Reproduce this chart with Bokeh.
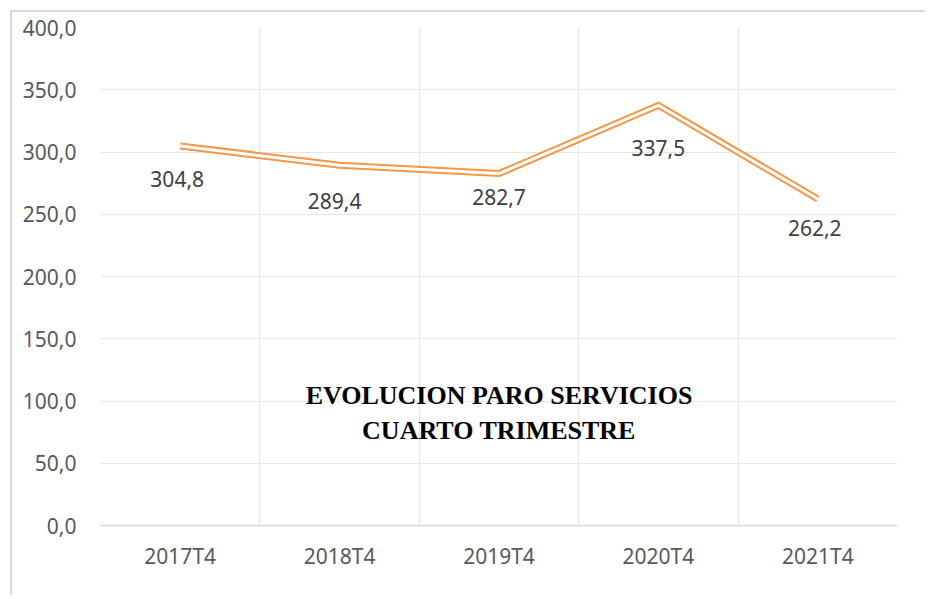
from bokeh.plotting import figure
from bokeh.models import (ColumnDataSource, Range1d, FixedTicker, Grid, LabelSet, Label,
                          CustomJSTickFormatter)
from bokeh.core.properties import value
from bokeh.embed import file_html
from bokeh.resources import INLINE

# ---- data ----
categories = ["2017T4", "2018T4", "2019T4", "2020T4", "2021T4"]
values = [304.8, 289.4, 282.7, 337.5, 262.2]
value_labels = ["304,8", "289,4", "282,7", "337,5", "262,2"]
y_ticks = [0, 50, 100, 150, 200, 250, 300, 350, 400]
title_lines = ["EVOLUCION PARO SERVICIOS", "CUARTO TRIMESTRE"]

# label placement (style)
label_dy = [-33, -36, -23, -43, -29]
label_dx = [-3, -5, 0, 0, -3]

xs = [i + 0.5 for i in range(len(categories))]

p = figure(width=915, height=585, output_backend="svg", toolbar_location=None,
           x_range=Range1d(0, len(categories)), y_range=Range1d(0, 400),
           min_border_left=88, min_border_right=30, min_border_top=15, min_border_bottom=72)
p.styles = {"border-left": "2px solid #d9d9d9", "border-top": "2px solid #d9d9d9",
            "margin-left": "10px", "margin-top": "10px"}
p.outline_line_color = None
p.background_fill_color = "white"
p.border_fill_color = "white"

# axes
p.xaxis.ticker = FixedTicker(ticks=xs)
p.xaxis.major_label_overrides = {x: c for x, c in zip(xs, categories)}
p.xaxis.axis_line_color = "#d9d9d9"
p.xaxis.axis_line_width = 1.5
p.xaxis.major_tick_line_color = None
p.xaxis.minor_tick_line_color = None
p.xaxis.major_label_text_font = "Noto Sans"
p.xaxis.major_label_text_font_size = "21px"
p.xaxis.major_label_text_color = "#595959"
p.xaxis.major_label_standoff = 10

p.yaxis.ticker = FixedTicker(ticks=y_ticks)
p.yaxis.formatter = CustomJSTickFormatter(code="return tick.toFixed(1).replace('.', ',');")
p.yaxis.axis_line_color = None
p.yaxis.major_tick_line_color = None
p.yaxis.minor_tick_line_color = None
p.yaxis.major_label_text_font = "Noto Sans"
p.yaxis.major_label_text_font_size = "21px"
p.yaxis.major_label_text_color = "#595959"
p.yaxis.major_label_standoff = 18

# grids
p.xgrid.visible = False
p.ygrid.grid_line_color = "#e6e6e6"
p.ygrid.grid_line_width = 1.2
vgrid = Grid(dimension=0, ticker=FixedTicker(ticks=list(range(len(categories) + 1))),
             grid_line_color="#e6e6e6", grid_line_width=1.2)
p.add_layout(vgrid)

src = ColumnDataSource(dict(x=xs, y=values, lab=value_labels, dx=label_dx, dy=label_dy))

# double line
p.line("x", "y", source=src, line_color="#F79646", line_width=7, line_join="miter")
p.line("x", "y", source=src, line_color="white", line_width=3, line_join="miter")

labels = LabelSet(x="x", y="y", text="lab", source=src, x_offset="dx", y_offset="dy",
                  text_align="center", text_baseline="middle",
                  text_font=value("Noto Sans"), text_font_size=value("21px"),
                  text_color="#404040")
p.add_layout(labels)

# title inside the plot
for txt, yv in zip(title_lines, [104.4, 76.3]):
    p.add_layout(Label(x=2.5, y=yv, text=txt, text_align="center", text_baseline="middle",
                       text_font="Liberation Serif", text_font_style="bold",
                       text_font_size="26px", text_color="black"))

open("out.html", "w").write(file_html(p, INLINE))
